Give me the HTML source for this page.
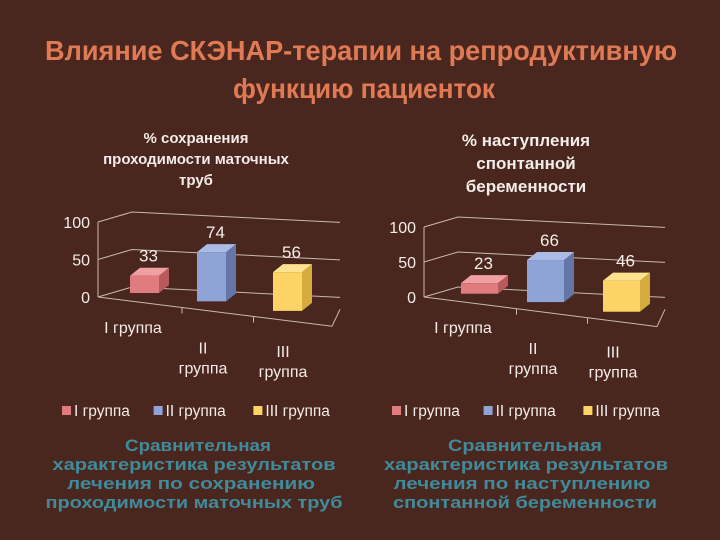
<!DOCTYPE html>
<html><head><meta charset="utf-8"><style>
html,body{margin:0;padding:0;background:#4a271e;}
svg{display:block;font-family:"Liberation Sans",sans-serif;}
</style></head><body>
<svg id="s" width="720" height="540" viewBox="0 0 720 540">
<rect width="720" height="540" fill="#4a271e"/>
<g fill="#e07a55" font-size="28" font-weight="bold" text-anchor="middle" font-family="'Liberation Sans Narrow','Liberation Sans',sans-serif">
<text x="361" y="60" textLength="632" lengthAdjust="spacingAndGlyphs">Влияние СКЭНАР-терапии на репродуктивную</text>
<text x="364" y="98" textLength="262" lengthAdjust="spacingAndGlyphs">функцию пациенток</text>
</g>
<g fill="#f4ece8" font-size="15" font-weight="bold" text-anchor="middle">
<text x="196" y="143">% сохранения</text><text x="196" y="164">проходимости маточных</text><text x="196" y="185">труб</text>
</g>
<g fill="#f4ece8" font-size="17" font-weight="bold" text-anchor="middle">
<text x="526" y="146">% наступления</text><text x="526" y="169">спонтанной</text><text x="526" y="192">беременности</text>
</g>
<g id="c1"></g>
<g id="c2"></g>
<g fill="#3f8b9c" font-size="17" font-weight="bold" text-anchor="middle">
<text x="198" y="451" textLength="146" lengthAdjust="spacingAndGlyphs">Сравнительная</text>
<text x="194" y="470" textLength="283" lengthAdjust="spacingAndGlyphs">характеристика результатов</text>
<text x="191" y="489" textLength="248" lengthAdjust="spacingAndGlyphs">лечения по сохранению</text>
<text x="194" y="508" textLength="297" lengthAdjust="spacingAndGlyphs">проходимости маточных труб</text>
</g>
<g fill="#3f8b9c" font-size="17" font-weight="bold" text-anchor="middle">
<text x="525" y="451" textLength="154" lengthAdjust="spacingAndGlyphs">Сравнительная</text>
<text x="526" y="470" textLength="284" lengthAdjust="spacingAndGlyphs">характеристика результатов</text>
<text x="522" y="489" textLength="257" lengthAdjust="spacingAndGlyphs">лечения по наступлению</text>
<text x="525" y="508" textLength="264" lengthAdjust="spacingAndGlyphs">спонтанной беременности</text>
</g>
</svg>
<script>
const categories = ["I группа","II группа","III группа"];
const chart1Values = [33,74,56];
const chart2Values = [23,66,46];
const yTicks = [0,50,100];
const colors = [["#e07b7e","#b85a5c","#f0a0a2"],["#8fa3d6","#6475a8","#aabbe6"],["#fdd365","#d4ab3c","#ffe28f"]];
const NS="http://www.w3.org/2000/svg";
function mk(p,tag,a){const e=document.createElementNS(NS,tag);for(const k in a)e.setAttribute(k,a[k]);p.appendChild(e);return e;}
function draw(g,vals,cfg){
  const {x0,y0,h100,x1,slope,bx,bw,catX}=cfg;
  const dX=34,dY=-10;
  const y=v=>y0-v/100*h100;
  const base=x=>y0+(x-x0)*slope;
  for(const t of yTicks){
    const yy=y(t);
    const gl=mk(g,'polyline',{points:`${x0},${yy} ${x0+dX},${yy+dY} ${x1},${yy+dY+(x1-x0-dX)*0.05}`,fill:'none',stroke:'#c9b8b0','stroke-width':1});
    
    const tl=mk(g,'text',{x:x0-8,y:yy+6,'text-anchor':'end','font-size':16,fill:'#f4ece8'});tl.textContent=t;
    
  }
  const ax=mk(g,'line',{x1:x0,y1:y(100),x2:x0,y2:y0,stroke:'#c9b8b0'});
  
  const fl=mk(g,'polyline',{points:`${x0},${y0} ${x1-8},${base(x1-8)} ${x1},${y0+dY+(x1-x0-dX)*0.05+12}`,fill:'none',stroke:'#c9b8b0'});
  
  vals.forEach((v,i)=>{
    const bl=bx[i],bb=base(bl)-8,bt=bb-v/100*h100*0.78-(i==0?-2:6),d=10;
    const c=colors[i];
    const bar=mk(g,'g',{});
    
    mk(bar,'polygon',{points:`${bl+bw},${bt} ${bl+bw+d},${bt-d*0.8} ${bl+bw+d},${bb-d*0.8} ${bl+bw},${bb}`,fill:c[1]});
    mk(bar,'polygon',{points:`${bl},${bt} ${bl+d},${bt-d*0.8} ${bl+bw+d},${bt-d*0.8} ${bl+bw},${bt}`,fill:c[2]});
    mk(bar,'rect',{x:bl,y:bt,width:bw,height:bb-bt,fill:c[0]});
    const lb=mk(g,'text',{x:bl+bw/2+4,y:bt-14,'text-anchor':'middle','font-size':17,fill:'#f4ece8'});lb.textContent=v;
    
    if(i>0){const tx=(bx[i-1]+bw+bl)/2+4;mk(g,'line',{x1:tx,y1:base(tx),x2:tx,y2:base(tx)+6,stroke:'#c9b8b0'});}
    const parts=categories[i].split(' ');
    const cl=mk(g,'text',{'text-anchor':'middle','font-size':16,fill:'#f4ece8'});
    
    if(i==0){cl.setAttribute('x',catX[0]);cl.setAttribute('y',base(x0)+36);cl.textContent=categories[i];}
    else{const yy=base(bl)+ (i==1?44:38);
      const a=mk(cl,'tspan',{x:catX[i],y:yy});a.textContent=parts[0];
      const b=mk(cl,'tspan',{x:catX[i],y:yy+20});b.textContent=parts[1];}
  });
  let lx=cfg.legX;
  categories.forEach((c,i)=>{
    const it=mk(g,'g',{});
    mk(it,'rect',{x:lx,y:406,width:9,height:9,fill:colors[i][0]});
    const t=mk(it,'text',{x:lx+12,y:416,'font-size':15.5,fill:'#f4ece8'});t.textContent=c;
    lx+=12+c.length*8.2+14;
  });
}
draw(document.getElementById('c1'),chart1Values,{x0:98,y0:297,h100:75,x1:340,slope:0.125,bx:[130,197,273],bw:29,catX:[133,203,283],legX:62});
draw(document.getElementById('c2'),chart2Values,{x0:424,y0:297,h100:70,x1:665,slope:0.127,bx:[461,527,603],bw:37,catX:[463,533,613],legX:392});
</script>
</body></html>
